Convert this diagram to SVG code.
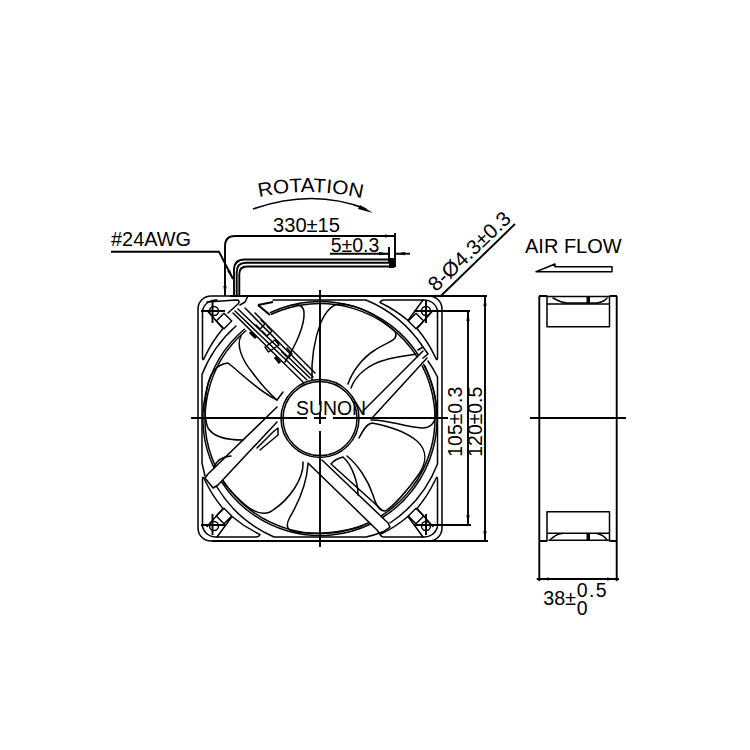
<svg xmlns="http://www.w3.org/2000/svg" xmlns:xlink="http://www.w3.org/1999/xlink" width="750" height="750" viewBox="0 0 750 750">
<style>
.f{fill:none;stroke:#000;stroke-width:1.5;stroke-linecap:round;stroke-linejoin:round}
.d{fill:none;stroke:#000;stroke-width:1.9}
.t{font-family:"Liberation Sans",Arial,sans-serif;font-size:19.5px;fill:#000}
</style>
<defs>
<marker id="arr" viewBox="0 0 10 4" refX="10" refY="2" markerWidth="10" markerHeight="4" markerUnits="userSpaceOnUse" orient="auto-start-reverse"><path d="M0,0.4 L10,2 L0,3.6 Z" fill="#000"/></marker>
<path id="cTop" class="f" d="M60,-116 Q61,-118.5 64,-118.5 L103,-118.5 L88,-98 A131,131 0 0 0 60,-116 Z"/>
<path id="cSide" class="f" d="M103,-118.5 A13.5,13.5 0 0 1 117.5,-108 L117.5,-60 Q117,-57 115,-62 A131,131 0 0 0 97,-90 L113,-108"/>
<g id="cHole" class="f"><circle cx="106" cy="-107.5" r="4.5"/><path d="M96,-105.2 L103.7,-97.5 L96,-89.8 L88.3,-97.5 Z"/></g>
<path id="rotPath" d="M259,197 Q311,186 365,199"/>
</defs>
<rect width="750" height="750" fill="#fff"/>

<g id="fan-front">
<rect class="f" x="198" y="296" width="244" height="245" rx="13"/>
<g id="corners" transform="translate(320,418.5)">
<use xlink:href="#cTop"/><use xlink:href="#cSide"/><use xlink:href="#cHole"/>
<g transform="scale(-1,1)"><use xlink:href="#cSide"/><use xlink:href="#cHole"/></g>
<g transform="scale(1,-1)"><use xlink:href="#cTop"/><use xlink:href="#cSide"/><use xlink:href="#cHole"/></g>
<g transform="scale(-1,-1)"><use xlink:href="#cTop"/><use xlink:href="#cSide"/><use xlink:href="#cHole"/></g>
</g>
<path class="f" d="M207,302 L236,300 Q241,300 238,304 L228,313"/>

<g id="ring">
<path class="f" d="M271.4,314.3 A115,115 0 0 1 417.1,356.9 M270.6,312.5 A117,117 0 0 1 418.6,355.4"/>
<path class="f" d="M422.2,365.8 A115,115 0 0 1 381,516 M423.7,364.3 A117,117 0 0 1 382.5,517.5"/>
<path class="f" d="M368.7,522.7 A115,115 0 0 1 222.9,480.1 M370.2,524.2 A117,117 0 0 1 221.4,481.6"/>
<path class="f" d="M215.5,466.5 A115,115 0 0 1 245.8,330.8 M214,468 A117,117 0 0 1 244.3,329.3"/>
<path class="f" d="M273,300 L366,300 A126,126 0 0 1 423,347"/>
<path class="f" d="M428,361 A124,124 0 0 1 437.5,377 L437.5,464 A126,126 0 0 1 390,523"/>
<path class="f" d="M382,532 Q375,535 366,537 L274,537 A126,126 0 0 1 216.7,486.7"/>
<path class="f" d="M205,476 L202,463 L202,374.5 A126,126 0 0 1 236,326"/>
<circle class="f" cx="320" cy="418.5" r="39"/>
<circle class="f" cx="320" cy="418.5" r="37"/>
</g>

<g id="struts">
<path class="f" d="M363,411 L423,351 M373,417 L427,358 M418,350 L423,347 L428,354 L423,358"/>
<path class="f" d="M277,407 L208,474 M277,422 L218,485 M208,474 L205,478 L213,488 L218,485"/>
<path class="f" d="M322,460 L388,523 M308,463 L377,530 M388,523 L390,527 L380,534 L377,530"/>
<path class="f" d="M248,296 L245,302 L240,305 M255,313 L315,373 M233,313 L303,382 M235,311 L307,380 M238,309 L310,378 M245,308 L313,377"/>
<path class="f" d="M265,347 L275,340 L279,345 L268.500,352 Z M256,325 L260,329 L265,324 L261,320 M262,331 L267,336 L272,331 L267,326 M282,352 L288,358 L292,354 L287,348"/>
<path d="M250,332 L256,338 M275,357 L280,363" stroke="#000" stroke-width="3" fill="none"/>
<path d="M258,305 L273,302 M258,305 L270,315" fill="none" stroke="#000" stroke-width="2.200"/>
</g>

<g id="blades">
<path class="f" d="M348,384 C352,372 362,358 375,350 C384,344 392,342 395,338 Q398,333 392,329 C380,318 362,306 342,304 C332,303 326,311 321,322 C316,335 311,355 312,380"/>
<path class="f" d="M351,388 C356,374 370,364 385,360 C398,356 408,356 416,354"/>
<path class="f" d="M425,366 C432,382 437,400 436,413 Q435,428 422,428 C405,427 385,419 371,420"/>
<path class="f" d="M347,456 C358,465 368,480 373,495 C376,505 379,511 385,511 C392,508 408,490 419,474 C427,462 427,450 417,441 C405,431 388,426 372,423 C366,424 362,432 359,438"/>
<path class="f" d="M382,510 L331,464 Q335,459 343,457 C352,465 358,482 358,495"/>
<path class="f" d="M308,464 C307,480 300,500 290,517 C285,526 287,531 296,532 C315,535 340,533 362,526"/>
<path class="f" d="M303,462 C304,478 290,500 270,512 C258,517 245,508 223,482"/>
<path class="f" d="M277,400 C258,391 240,372 228,363 C218,364 210,372 207,388 C204,405 204,418 208,428 C214,438 228,440 243,440"/>
<path class="f" d="M214,467 Q218,457 231,456"/>
<path class="f" d="M257,448 L273,432 L278,428 L278,435 L260,450"/>
<path class="f" d="M241,336 C236,345 242,360 252,372 C260,383 268,392 277,400 L283,392"/>
<path class="f" d="M292,305 Q303,303 304,312 C305,325 296,345 285,362"/>
</g>
</g>

<g id="wires">
<path class="d" d="M234,296 L234,270 Q234,259.5 245,259.5 L395,259.5 M236.7,296 L236.7,272 Q236.7,262.8 246,262.8 L393,262.8 M239.3,296 L239.3,274 Q239.3,266.500 247,266.500 L395,266.500"/>
<path d="M389,258 H394 V268 H389 Z" fill="#000"/>
</g>

<g id="connectors">
<path class="d" d="M191,418 H307 M314,418 H326 M333,418 H448 M320,290 V405 M320,412 V424 M320,431 V547"/>
<path class="d" d="M201,311 H225 M212.500,301 V323 M201,525 H225 M212.500,514 V535 M414,311 H470 M426,300 V323 M414,525 H471 M426,514 V535"/>
<path class="d" d="M230,296 H487 M212,541 H488"/>
<path class="d" marker-start="url(#arr)" marker-end="url(#arr)" d="M468,311 V525"/>
<path class="d" marker-start="url(#arr)" marker-end="url(#arr)" d="M485,296 V541"/>
<path class="d" marker-end="url(#arr)" d="M395,236 H235 Q225,236 225,246 V296" marker-start="url(#arr)"/>
<path class="d" d="M395,233 V267 M389,247 V263"/>
<path class="d" marker-end="url(#arr)" d="M330,253.700 H389"/>
<path class="d" marker-end="url(#arr)" d="M410,253.700 H395"/>
<path class="d" marker-end="url(#arr)" d="M111,251.700 H219 L233,279"/>
<path class="d" d="M440,296.700 L515,224"/>
<path fill="none" stroke="#000" stroke-width="1.500" d="M253,209 Q313,188 366,209"/>
<path d="M360,205 L373,213 L358,209 Z" fill="#000"/>
</g>

<g id="fan-side">
<path class="d" d="M539.300,296 V581 M616.700,296 V581 M539,296 H547 M610,296 H617 M539,541 H547 M610,541 H617"/>
<path class="f" d="M547,296 V326.700 H609.500 V296 M547,304 H609.500 M547,296.500 H610"/>
<path class="f" d="M553,298 Q562,303 567,303 H597 Q604,302 607,298"/>
<path d="M586.500,297 H590 V304 H586.500 Z M586.500,533 H590 V540 H586.500 Z" fill="#000"/>
<path class="f" d="M547,541 V511.700 H609.500 V541 M547,533.300 H609.500 M549,540.300 H610"/>
<path class="f" d="M550,540 Q556,534 562,533.500 M597,533.500 Q604,535 607,540"/>
<path class="d" d="M530,418 H626"/>
<path class="d" marker-start="url(#arr)" marker-end="url(#arr)" d="M539.300,579 H616.700"/>
<path class="d" d="M536.700,579 H539.300 M616.700,579 H619"/>
<path class="f" d="M536,271.700 L555,264 V266.700 H612 V271.700 Z"/>
</g>

<g id="labels">
<text class="t" x="111" y="246" textLength="80" lengthAdjust="spacingAndGlyphs">#24AWG</text>
<text class="t" font-size="20"><textPath xlink:href="#rotPath" textLength="104" lengthAdjust="spacingAndGlyphs">ROTATION</textPath></text>
<text class="t" x="273" y="231.700" textLength="67" lengthAdjust="spacingAndGlyphs">330±15</text>
<text class="t" x="330.700" y="251.700" textLength="48.700" lengthAdjust="spacingAndGlyphs">5±0.3</text>
<text class="t" style="font-size:20.500px" transform="translate(436,292.500) rotate(-43.500)" textLength="105" lengthAdjust="spacingAndGlyphs">8-Ø4.3±0.3</text>
<text class="t" x="525" y="252.700" textLength="96.700" lengthAdjust="spacingAndGlyphs">AIR FLOW</text>
<text class="t" x="296" y="415" textLength="70" lengthAdjust="spacingAndGlyphs">SUNON</text>
<text class="t" transform="translate(461.700,456.700) rotate(-90)" textLength="70" lengthAdjust="spacingAndGlyphs">105±0.3</text>
<text class="t" transform="translate(481.700,456.700) rotate(-90)" textLength="70" lengthAdjust="spacingAndGlyphs">120±0.5</text>
<text class="t" x="543.300" y="605" textLength="32.700" lengthAdjust="spacingAndGlyphs">38±</text>
<text class="t" x="576.700" y="597.300" textLength="30">0.5</text>
<text class="t" x="576.700" y="615">0</text>
</g>
</svg>
